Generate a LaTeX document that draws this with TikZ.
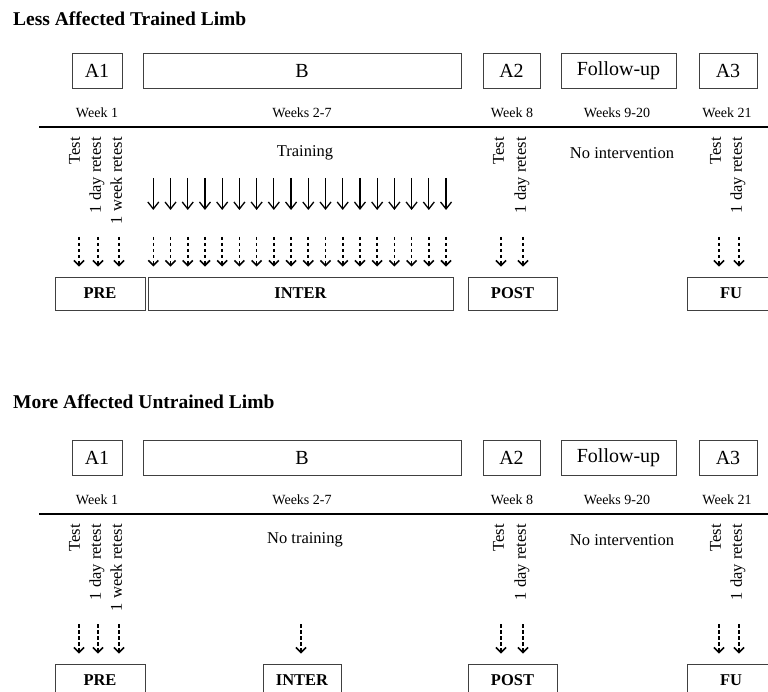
\documentclass[tikz,border=0pt]{standalone}
\usepackage{fontspec}
\setmainfont{Liberation Serif}
\usepackage{tikz}
\usetikzlibrary{arrows.meta}

\tikzset{
  phasebox/.style={draw=black!75,line width=0.9pt,minimum height=35pt,inner sep=0pt,
    font=\fontsize{20}{24}\selectfont},
  outbox/.style={draw=black!75,line width=0.9pt,minimum height=33pt,inner sep=0pt,
    font=\fontsize{16.5}{20}\selectfont\bfseries},
  weeklabel/.style={inner sep=0pt,font=\fontsize{14}{17}\selectfont},
  testlabel/.style={rotate=90,anchor=east,inner sep=0pt,text height=1.6ex,text depth=0.3ex,
    font=\fontsize{16.5}{20}\selectfont},
  notelabel/.style={inner sep=0pt,font=\fontsize{16.5}{20}\selectfont},
  paneltitle/.style={anchor=base west,inner sep=0pt,font=\fontsize{19.5}{23}\selectfont\bfseries},
  trainarrow/.style={line width=1.3pt,-{Straight Barb[length=7pt,width=11pt,line width=1.3pt]}},
  testarrow/.style={line width=1.6pt,dash pattern=on 3.5pt off 2.5pt,shorten >=10pt,
    -{Straight Barb[length=5pt,width=10pt,line width=1.6pt]}},
}

\begin{document}
\begin{tikzpicture}[x=1pt,y=1pt]
\useasboundingbox (0,0) rectangle (768,-692);
% less affected trained limb:
\node[paneltitle] (titleA) at (13,-26) {Less Affected Trained Limb};
\node[phasebox,minimum width=50pt] (a1A) at (97,-70.5) {A1};
\node[phasebox,minimum width=318pt] (bA) at (302,-70.5) {B};
\node[phasebox,minimum width=57pt] (a2A) at (511.5,-70.5) {A2};
\node[phasebox,minimum width=115pt] (fA) at (618.5,-70.5) {Follow-up};
\node[phasebox,minimum width=58pt] (a3A) at (728,-70.5) {A3};
\node[weeklabel] (w1A) at (97,-113) {Week 1};
\node[weeklabel] (w2A) at (302,-113) {Weeks 2-7};
\node[weeklabel] (w8A) at (512,-113) {Week 8};
\node[weeklabel] (w9A) at (617,-113) {Weeks 9-20};
\node[weeklabel] (w21A) at (727,-113) {Week 21};
\draw[line width=2.5pt] (39,-127) -- (770,-127);
\node[testlabel] (t1A) at (77,-137) {Test};
\node[testlabel] (t2A) at (98,-137) {1 day retest};
\node[testlabel] (t3A) at (119,-137) {1 week retest};
\node[testlabel] (t4A) at (501,-137) {Test};
\node[testlabel] (t5A) at (523,-137) {1 day retest};
\node[testlabel] (t6A) at (718,-137) {Test};
\node[testlabel] (t7A) at (739,-137) {1 day retest};
\node[notelabel] (trA) at (305,-153) {Training};
\node[notelabel] (niA) at (622,-153) {No intervention};
\node[outbox,minimum width=90pt] (preA) at (100,-293.5) {PRE};
\node[outbox,minimum width=305pt] (interA) at (300.5,-293.5) {INTER};
\node[outbox,minimum width=89pt] (postA) at (512.5,-293.5) {POST};
\node[outbox,minimum width=88pt] (fuA) at (731,-293.5) {FU};
\foreach \i in {0,...,17}{
  \coordinate (sA\i) at (153.3+17.22*\i,-178);
  \draw[trainarrow] (sA\i) -- ++(0,-32);
  \coordinate (dA\i) at (153.3+17.22*\i,-237);
  \draw[testarrow] (dA\i) -- (dA\i |- interA.north);
}
\foreach \x/\n in {79/1,98/2,119/3}{
  \coordinate (pA\n) at (\x,-237);
  \draw[testarrow] (pA\n) -- (pA\n |- preA.north);
}
\foreach \x/\n in {501/1,523/2}{
  \coordinate (qA\n) at (\x,-237);
  \draw[testarrow] (qA\n) -- (qA\n |- postA.north);
}
\foreach \x/\n in {719/1,739/2}{
  \coordinate (uA\n) at (\x,-237);
  \draw[testarrow] (uA\n) -- (uA\n |- fuA.north);
}
% more affected untrained limb:
\node[paneltitle] (titleB) at (13,-408) {More Affected Untrained Limb};
\node[phasebox,minimum width=50pt] (a1B) at (97,-457.5) {A1};
\node[phasebox,minimum width=318pt] (bB) at (302,-457.5) {B};
\node[phasebox,minimum width=57pt] (a2B) at (511.5,-457.5) {A2};
\node[phasebox,minimum width=115pt] (fB) at (618.5,-457.5) {Follow-up};
\node[phasebox,minimum width=58pt] (a3B) at (728,-457.5) {A3};
\node[weeklabel] (w1B) at (97,-500) {Week 1};
\node[weeklabel] (w2B) at (302,-500) {Weeks 2-7};
\node[weeklabel] (w8B) at (512,-500) {Week 8};
\node[weeklabel] (w9B) at (617,-500) {Weeks 9-20};
\node[weeklabel] (w21B) at (727,-500) {Week 21};
\draw[line width=2.5pt] (39,-514) -- (770,-514);
\node[testlabel] (t1B) at (77,-524) {Test};
\node[testlabel] (t2B) at (98,-524) {1 day retest};
\node[testlabel] (t3B) at (119,-524) {1 week retest};
\node[testlabel] (t4B) at (501,-524) {Test};
\node[testlabel] (t5B) at (523,-524) {1 day retest};
\node[testlabel] (t6B) at (718,-524) {Test};
\node[testlabel] (t7B) at (739,-524) {1 day retest};
\node[notelabel] (ntB) at (305,-540) {No training};
\node[notelabel] (niB) at (622,-540) {No intervention};
\node[outbox,minimum width=90pt] (preB) at (100,-680.5) {PRE};
\node[outbox,minimum width=78pt] (interB) at (302,-680.5) {INTER};
\node[outbox,minimum width=89pt] (postB) at (512.5,-680.5) {POST};
\node[outbox,minimum width=88pt] (fuB) at (731,-680.5) {FU};
\foreach \x/\n in {79/1,98/2,119/3}{
  \coordinate (pB\n) at (\x,-624);
  \draw[testarrow] (pB\n) -- (pB\n |- preB.north);
}
\coordinate (iB) at (301,-624);
\draw[testarrow] (iB) -- (iB |- interB.north);
\foreach \x/\n in {501/1,523/2}{
  \coordinate (qB\n) at (\x,-624);
  \draw[testarrow] (qB\n) -- (qB\n |- postB.north);
}
\foreach \x/\n in {719/1,739/2}{
  \coordinate (uB\n) at (\x,-624);
  \draw[testarrow] (uB\n) -- (uB\n |- fuB.north);
}
\end{tikzpicture}
\end{document}
